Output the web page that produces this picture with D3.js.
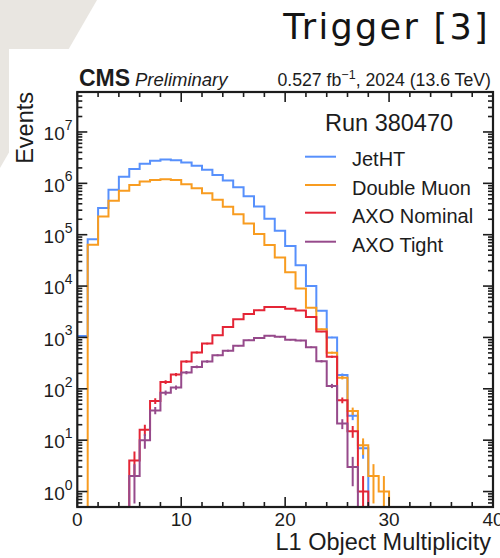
<!DOCTYPE html>
<html>
<head>
<meta charset="utf-8">
<script src="https://cdn.jsdelivr.net/npm/d3@7"></script>
<style>
  html, body { margin: 0; padding: 0; background: #fff; }
  svg { display: block; }
</style>
</head>
<body>
<svg id="chart" width="500" height="558"></svg>
<script>
// ---- data: L1 object multiplicity, one entry per unit-width bin from 0 to 40 ----
const binEdges = d3.range(0, 41);

const jetHT = [1070, 82000, 330000, 750000, 1350000, 1900000, 2400000, 2750000, 2900000, 2800000,
               2550000, 2200000, 1830000, 1460000, 1130000, 840000, 560000, 355000, 205000, 120000,
               60000, 25500, 10000, 3300, 1000, 185, 30, 7, 0, 0,
               0, 0, 0, 0, 0, 0, 0, 0, 0, 0];

const doubleMuon = [0, 64000, 225000, 460000, 720000, 930000, 1080000, 1160000, 1200000, 1160000,
                    960000, 800000, 640000, 480000, 350000, 250000, 166000, 103000, 63000, 36000,
                    18500, 9000, 3800, 1450, 505, 165, 37, 8, 2, 1,
                    0, 0, 0, 0, 0, 0, 0, 0, 0, 0];

const axoNominal = [0, 0, 0, 0, 0, 4, 16, 58, 135, 190,
                    340, 510, 760, 1100, 1600, 2250, 2850, 3400, 3900, 3900,
                    3600, 3350, 2500, 1300, 420, 60, 15, 1, 0, 0,
                    0, 0, 0, 0, 0, 0, 0, 0, 0, 0];

const axoTight = [0, 0, 0, 0, 0, 2, 10, 38, 84, 106,
                  207, 267, 340, 450, 550, 690, 885, 970, 1080, 1030,
                  900, 870, 645, 345, 114, 21, 3, 0, 0, 0,
                  0, 0, 0, 0, 0, 0, 0, 0, 0, 0];

const seriesNames  = ["JetHT", "Double Muon", "AXO Nominal", "AXO Tight"];
const seriesValues = [jetHT, doubleMuon, axoNominal, axoTight];
const seriesColors = ["#5790fc", "#f89c20", "#e42536", "#964a8b"];

const xTickValues = [0, 10, 20, 30, 40];
const yTickExponents = [0, 1, 2, 3, 4, 5, 6, 7];

// ---- layout ----
const W = 500, H = 558;
const plot = { left: 77.3, right: 493, top: 92, bottom: 507 };
const ink = "#1c1c1c";
const font = "'Liberation Sans', Arial, Helvetica, sans-serif";

const svg = d3.select("#chart");

// page decoration behind the figure
svg.append("path").attr("d", "M0,0 L97,0 L0,168 Z").attr("fill", "#e9e6e1");
svg.append("rect").attr("x", 9).attr("y", 49).attr("width", W - 9).attr("height", H - 49).attr("fill", "#fff");

svg.append("text")
  .attr("x", 490).attr("y", 38.5)
  .attr("text-anchor", "end")
  .attr("font-family", "'DejaVu Sans', sans-serif")
  .attr("font-size", 35)
  .attr("letter-spacing", 2.3)
  .attr("fill", "#141414")
  .text("Trigger [3]");

// ---- scales ----
const x = d3.scaleLinear().domain([0, 40]).range([plot.left, plot.right]);
const y = d3.scaleLog().domain([0.5, 6e7]).range([plot.bottom, plot.top]);
const floorVal = 1e-3; // empty bins fall below the axis and get clipped

svg.append("clipPath").attr("id", "plotClip")
  .append("rect")
  .attr("x", plot.left).attr("y", plot.top)
  .attr("width", plot.right - plot.left).attr("height", plot.bottom - plot.top);

const histLayer = svg.append("g").attr("clip-path", "url(#plotClip)");

const stepLine = d3.line()
  .x(d => x(d[0]))
  .y(d => y(Math.max(d[1], floorVal)));

seriesValues.forEach((vals, s) => {
  const pts = [];
  vals.forEach((v, i) => {
    pts.push([binEdges[i], v]);
    pts.push([binEdges[i + 1], v]);
  });
  histLayer.append("path")
    .attr("d", stepLine(pts))
    .attr("fill", "none")
    .attr("stroke", seriesColors[s])
    .attr("stroke-width", 2)
    .attr("stroke-linejoin", "miter");

  // Poisson (sqrt N) error bars at bin centres
  histLayer.append("g").selectAll("line")
    .data(vals.map((v, i) => ({ v, c: (binEdges[i] + binEdges[i + 1]) / 2 })).filter(d => d.v > 0))
    .join("line")
    .attr("x1", d => x(d.c)).attr("x2", d => x(d.c))
    .attr("y1", d => y(Math.max(d.v - Math.sqrt(d.v), floorVal)))
    .attr("y2", d => y(d.v + Math.sqrt(d.v)))
    .attr("stroke", seriesColors[s])
    .attr("stroke-width", 2);
});

// ---- axes frame and ticks ----
const axisG = svg.append("g").attr("stroke", ink);

const xMinor = d3.range(0, 41, 2).filter(v => v % 10 !== 0);
const yMinor = [];
for (let e = -1; e <= 7; e++) {
  for (let m = 2; m <= 9; m++) {
    const v = m * Math.pow(10, e);
    if (v >= 0.5 && v <= 6e7) yMinor.push(v);
  }
}
const majorLen = 10, minorLen = 5;

function tick(x1, y1, x2, y2) {
  axisG.append("line").attr("x1", x1).attr("y1", y1).attr("x2", x2).attr("y2", y2)
    .attr("stroke-width", 1.6);
}
xTickValues.forEach(v => {
  tick(x(v), plot.bottom, x(v), plot.bottom - majorLen);
  tick(x(v), plot.top, x(v), plot.top + majorLen);
});
xMinor.forEach(v => {
  tick(x(v), plot.bottom, x(v), plot.bottom - minorLen);
  tick(x(v), plot.top, x(v), plot.top + minorLen);
});
yTickExponents.forEach(e => {
  const yy = y(Math.pow(10, e));
  tick(plot.left, yy, plot.left + majorLen, yy);
  tick(plot.right, yy, plot.right - majorLen, yy);
});
yMinor.forEach(v => {
  tick(plot.left, y(v), plot.left + minorLen, y(v));
  tick(plot.right, y(v), plot.right - minorLen, y(v));
});

axisG.append("rect")
  .attr("x", plot.left).attr("y", plot.top)
  .attr("width", plot.right - plot.left).attr("height", plot.bottom - plot.top)
  .attr("fill", "none").attr("stroke-width", 2.2);

// ---- tick labels ----
svg.append("g").selectAll("text")
  .data(xTickValues)
  .join("text")
  .attr("x", d => x(d)).attr("y", 526)
  .attr("text-anchor", "middle")
  .attr("font-family", font).attr("font-size", 19).attr("fill", ink)
  .text(d => d);

const yLab = svg.append("g").selectAll("text")
  .data(yTickExponents)
  .join("text")
  .attr("x", 72.5).attr("y", d => y(Math.pow(10, d)) + 8.3)
  .attr("text-anchor", "end")
  .attr("font-family", font).attr("font-size", 19).attr("fill", ink);
yLab.append("tspan").text("10");
yLab.append("tspan").attr("font-size", 14).attr("dy", -10.3).text(d => d);

// ---- axis titles ----
svg.append("text")
  .attr("x", 491).attr("y", 550)
  .attr("text-anchor", "end")
  .attr("font-family", font).attr("font-size", 23.5).attr("fill", ink)
  .text("L1 Object Multiplicity");

svg.append("text")
  .attr("transform", "translate(33,92) rotate(-90)")
  .attr("text-anchor", "end")
  .attr("font-family", font).attr("font-size", 23.5).attr("fill", ink)
  .text("Events");

// ---- experiment label and luminosity ----
svg.append("text")
  .attr("x", 79).attr("y", 86)
  .attr("font-family", font).attr("font-size", 23).attr("font-weight", "bold").attr("fill", ink)
  .text("CMS");
svg.append("text")
  .attr("x", 135).attr("y", 86)
  .attr("font-family", font).attr("font-size", 18.5).attr("font-style", "italic").attr("fill", ink)
  .text("Preliminary");

const lumi = svg.append("text")
  .attr("x", 491).attr("y", 86)
  .attr("text-anchor", "end")
  .attr("font-family", font).attr("font-size", 17.7).attr("fill", ink);
lumi.append("tspan").text("0.527 fb");
lumi.append("tspan").attr("font-size", 12.5).attr("dy", -7).text("\u22121");
lumi.append("tspan").attr("dy", 7).text(", 2024 (13.6 TeV)");

// ---- legend ----
const legend = svg.append("g");
legend.append("text")
  .attr("x", 325).attr("y", 130.7)
  .attr("font-family", font).attr("font-size", 23.5).attr("fill", ink)
  .text("Run 380470");

const legendRows = [156.7, 185, 212.7, 241.7];
seriesNames.forEach((name, i) => {
  legend.append("line")
    .attr("x1", 305).attr("x2", 336)
    .attr("y1", legendRows[i]).attr("y2", legendRows[i])
    .attr("stroke", seriesColors[i]).attr("stroke-width", 2);
  legend.append("text")
    .attr("x", 352).attr("y", legendRows[i] + 4 + (i === 0 ? -0.7 : 0))
    .attr("dy", "0.3em")
    .attr("font-family", font).attr("font-size", 20).attr("fill", ink)
    .text(name);
});
</script>
</body>
</html>
